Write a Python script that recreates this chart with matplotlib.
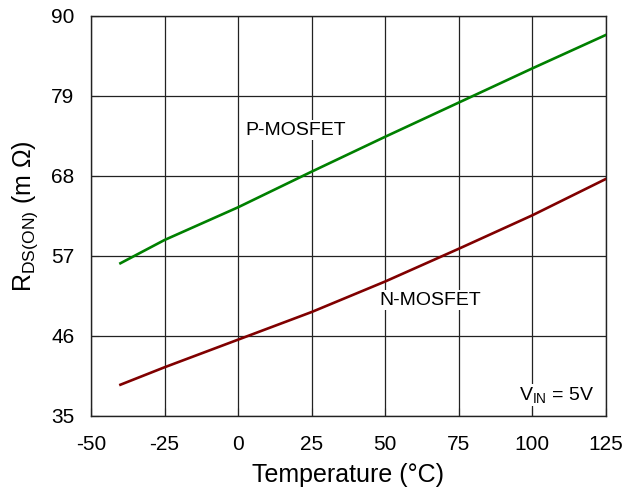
import matplotlib
matplotlib.use("Agg")
import matplotlib.pyplot as plt

plt.rcParams['font.family'] = ['Liberation Sans', 'DejaVu Sans']
plt.rcParams['mathtext.fontset'] = 'custom'
plt.rcParams['mathtext.rm'] = 'Liberation Sans'
plt.rcParams['mathtext.it'] = 'Liberation Sans'
plt.rcParams['axes.unicode_minus'] = False

temp = [-40, -25, 0, 25, 50, 75, 100, 125]
p_mos = [56.0, 59.2, 63.7, 68.6, 73.4, 78.1, 82.8, 87.4]
n_mos = [39.3, 41.7, 45.5, 49.3, 53.5, 58.0, 62.6, 67.6]

xticks = [-50, -25, 0, 25, 50, 75, 100, 125]
yticks = [35, 46, 57, 68, 79, 90]

fig = plt.figure(figsize=(6.25, 4.96), dpi=100)
ax = fig.add_axes([0.1456, 0.1613, 0.824, 0.8065])

ax.plot(temp, p_mos, color='#008000', lw=1.9, zorder=3)
ax.plot(temp, n_mos, color='#800000', lw=1.9, zorder=3)

ax.set_xlim(-50, 125)
ax.set_ylim(35, 90)
ax.set_xticks(xticks)
ax.set_yticks(yticks)
ax.grid(True, color='#222222', lw=0.9)
ax.tick_params(direction='in', length=6, labelsize=15, color='#222222')
ax.tick_params(axis='x', pad=14)
ax.tick_params(axis='y', pad=12)
for s in ax.spines.values():
    s.set_color('#222222')
    s.set_linewidth(1.0)

box = dict(facecolor='white', edgecolor='none', pad=1)
ax.text(2.3, 74.3, 'P-MOSFET', fontsize=14, va='center', ha='left', bbox=box, zorder=4)
ax.text(48, 50.9, 'N-MOSFET', fontsize=14, va='center', ha='left', bbox=box, zorder=4)
ax.text(121, 37.9, r'V$_{\mathregular{IN}}$ = 5V', fontsize=14, va='center', ha='right',
        bbox=box, zorder=4)

ax.set_xlabel('Temperature (°C)', fontsize=18, labelpad=6)
ax.set_ylabel(r'R$_{\mathregular{DS(ON)}}$ (m $\Omega$)', fontsize=18, labelpad=8)

fig.savefig('out.png', dpi=100)
